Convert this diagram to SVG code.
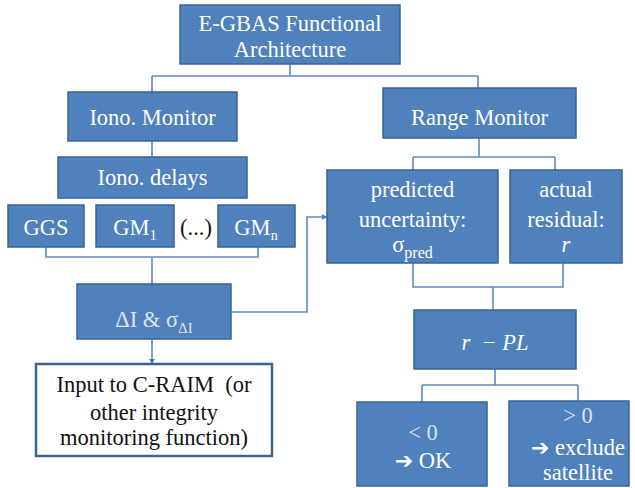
<svg xmlns="http://www.w3.org/2000/svg" width="635" height="488" viewBox="0 0 635 488">
<defs>
<style>
.box{fill:#4F81BD;stroke:#3A6492;stroke-width:1.5}
.wbox{fill:#ffffff;stroke:#3A6492;stroke-width:2.5}
.t{font-size:22.5px;fill:#ffffff;text-anchor:middle}
.k{fill:#111111}
.g{fill:#dde4ee}
.c{fill:none;stroke:#5B8CC6;stroke-width:1.6}
</style>
<marker id="ah" viewBox="0 0 10 10" refX="9" refY="5" markerWidth="6" markerHeight="6" orient="auto" markerUnits="userSpaceOnUse">
<path d="M0,0 L10,5 L0,10 z" fill="#4A7EBB"/>
</marker>
</defs>
<rect width="635" height="488" fill="#ffffff"/>
<g id="connectors">
<path class="c" d="M290,64 V76 M152,76 H478 M152,76 V92 M478,76 V88"/>
<path class="c" d="M152,141 V157"/>
<path class="c" d="M46,247 V257 H258 V247 M152,257 V284"/>
<path class="c" d="M231,312 H307 V217 H327" marker-end="url(#ah)"/>
<path class="c" d="M152,339 V364" marker-end="url(#ah)"/>
<path class="c" d="M479,138 V157 M413,157 H555 M413,157 V170 M555,157 V170"/>
<path class="c" d="M413,263 V287 H563 V263 M493,287 V310"/>
<path class="c" d="M495,369 V385 M422,385 H578 M422,385 V402 M578,385 V401"/>
</g>
<g font-family="Liberation Serif, DejaVu Serif, serif">
<g id="egbas">
<rect class="box" x="180" y="5" width="220" height="59"/>
<text class="t" x="290" y="31">E-GBAS Functional</text>
<text class="t" x="290" y="57">Architecture</text>
</g>
<g id="iono-monitor">
<rect class="box" x="68" y="92" width="169" height="49"/>
<text class="t" x="152.5" y="125">Iono. Monitor</text>
</g>
<g id="range-monitor">
<rect class="box" x="383" y="88" width="193" height="50"/>
<text class="t" x="479.5" y="125">Range Monitor</text>
</g>
<g id="iono-delays">
<rect class="box" x="58" y="157" width="189" height="41"/>
<text class="t" x="152.5" y="185">Iono. delays</text>
</g>
<g id="ggs">
<rect class="box" x="8" y="205" width="76" height="42"/>
<text class="t" x="46" y="235">GGS</text>
</g>
<g id="gm1">
<rect class="box" x="96" y="205" width="78" height="42"/>
<text class="t" x="135" y="235">GM<tspan font-size="14" dy="5">1</tspan></text>
</g>
<g id="ellipsis">
<text class="t k" x="196" y="235">(...)</text>
</g>
<g id="gmn">
<rect class="box" x="218" y="205" width="77" height="42"/>
<text class="t" x="256" y="235">GM<tspan font-size="14" dy="5">n</tspan></text>
</g>
<g id="delta-i">
<rect class="box" x="77" y="284" width="154" height="55"/>
<text class="t g" x="154" y="327" font-size="24">ΔI &amp; σ<tspan font-size="15" dy="6">ΔI</tspan></text>
</g>
<g id="input-craim">
<rect class="wbox" x="36" y="364" width="236" height="92"/>
<text class="t k" x="154" y="392" xml:space="preserve">Input to C-RAIM  (or</text>
<text class="t k" x="154" y="420">other integrity</text>
<text class="t k" x="154" y="445">monitoring function)</text>
</g>
<g id="predicted">
<rect class="box" x="327" y="170" width="171" height="93"/>
<text class="t" x="412.5" y="197">predicted</text>
<text class="t" x="412.5" y="227">uncertainty:</text>
<text class="t" x="412.5" y="252">σ<tspan font-size="16" dy="6">pred</tspan></text>
</g>
<g id="actual">
<rect class="box" x="510" y="170" width="112" height="93"/>
<text class="t" x="566" y="197">actual</text>
<text class="t" x="566" y="227">residual:</text>
<text class="t" x="566" y="252" font-style="italic">r</text>
</g>
<g id="r-pl">
<rect class="box" x="414" y="310" width="162" height="59"/>
<text class="t" x="495" y="350" font-style="italic" xml:space="preserve">r  − PL</text>
</g>
<g id="lt0">
<rect class="box" x="357" y="402" width="130" height="84"/>
<text class="t g" x="423" y="440">&lt; 0</text>
<text class="t" x="423" y="468"><tspan font-family="DejaVu Sans, sans-serif" font-weight="bold" font-size="22">➔</tspan> OK</text>
</g>
<g id="gt0">
<rect class="box" x="509" y="401" width="120" height="85"/>
<text class="t g" x="578" y="423">&gt; 0</text>
<text class="t" x="578" y="455"><tspan font-family="DejaVu Sans, sans-serif" font-weight="bold" font-size="22">➔</tspan> exclude</text>
<text class="t" x="578" y="480">satellite</text>
</g>
</g>
</svg>
